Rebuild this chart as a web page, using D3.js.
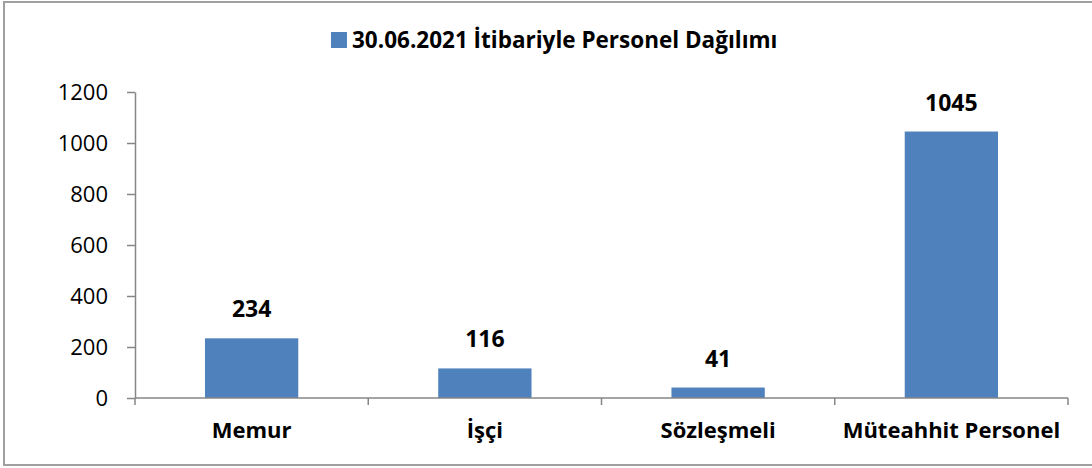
<!DOCTYPE html>
<html>
<head>
<meta charset="utf-8">
<script src="https://cdn.jsdelivr.net/npm/d3@7"></script>
<style>
  html, body { margin: 0; padding: 0; background: #fff; }
  svg { display: block; font-family: "Open Sans", Lato, sans-serif; }
</style>
</head>
<body>
<svg id="chart" width="1092" height="468"></svg>
<script>
const categories = ["Memur", "İşçi", "Sözleşmeli", "Müteahhit Personel"];
const values = [234, 116, 41, 1045];
const seriesName = "30.06.2021 İtibariyle Personel Dağılımı";
const yTicks = [0, 200, 400, 600, 800, 1000, 1200];

const svg = d3.select("#chart");
const barColor = "#4f81bd";
const axisColor = "#868686";
const FONT = "'Open Sans', Lato, sans-serif";

// outer frame
svg.append("rect")
  .attr("x", 4).attr("y", 2)
  .attr("width", 1100).attr("height", 463)
  .attr("fill", "none").attr("stroke", "#a0a0a0").attr("stroke-width", 2);

const plot = { left: 135, right: 1068, top: 92, bottom: 398 };

const x = d3.scaleBand().domain(categories)
  .range([plot.left, plot.right]).paddingInner(0.6).paddingOuter(0.3);
const y = d3.scaleLinear().domain([0, 1200]).range([plot.bottom, plot.top]);

// bars
svg.append("g").selectAll("rect").data(values).join("rect")
  .attr("x", (d, i) => x(categories[i]))
  .attr("y", d => y(d))
  .attr("width", x.bandwidth())
  .attr("height", d => y(0) - y(d))
  .attr("fill", barColor);

// y axis
const yAxis = svg.append("g").attr("transform", `translate(${plot.left},0)`)
  .call(d3.axisLeft(y).tickValues(yTicks).tickFormat(d3.format("d"))
    .tickSize(8).tickPadding(19).tickSizeOuter(0));
yAxis.select(".domain").attr("stroke", axisColor).attr("stroke-width", 1.5);
yAxis.selectAll(".tick line").attr("stroke", axisColor).attr("stroke-width", 1.5);
yAxis.selectAll(".tick text").attr("font-size", 22).attr("fill", "#000")
  .attr("font-family", FONT);

// x axis
const boundaries = d3.range(categories.length + 1).map(i => plot.left + i * (plot.right - plot.left) / categories.length);
const xg = svg.append("g");
xg.append("line")
  .attr("x1", plot.left).attr("x2", plot.right)
  .attr("y1", y(0)).attr("y2", y(0))
  .attr("stroke", axisColor).attr("stroke-width", 1.5);
xg.selectAll("line.tk").data(boundaries).join("line").attr("class", "tk")
  .attr("x1", d => d).attr("x2", d => d)
  .attr("y1", y(0)).attr("y2", y(0) + 7)
  .attr("stroke", axisColor).attr("stroke-width", 1.5);
xg.selectAll("text").data(categories).join("text")
  .attr("x", d => x(d) + x.bandwidth() / 2)
  .attr("y", y(0) + 40)
  .attr("text-anchor", "middle")
  .attr("font-size", 22).attr("font-weight", "bold").attr("fill", "#000")
  .text(d => d);

// value labels
svg.append("g").selectAll("text").data(values).join("text")
  .attr("x", (d, i) => x(categories[i]) + x.bandwidth() / 2)
  .attr("y", d => y(d) - 21)
  .attr("text-anchor", "middle")
  .attr("font-size", 23).attr("font-weight", "bold").attr("fill", "#000")
  .text(d => d);

// legend
const lg = svg.append("g");
lg.append("rect").attr("x", 331).attr("y", 32).attr("width", 16).attr("height", 16).attr("fill", barColor);
lg.append("text").attr("x", 352).attr("y", 48)
  .attr("font-size", 22.5).attr("font-weight", "bold").attr("fill", "#000")
  .text(seriesName);
</script>
</body>
</html>
